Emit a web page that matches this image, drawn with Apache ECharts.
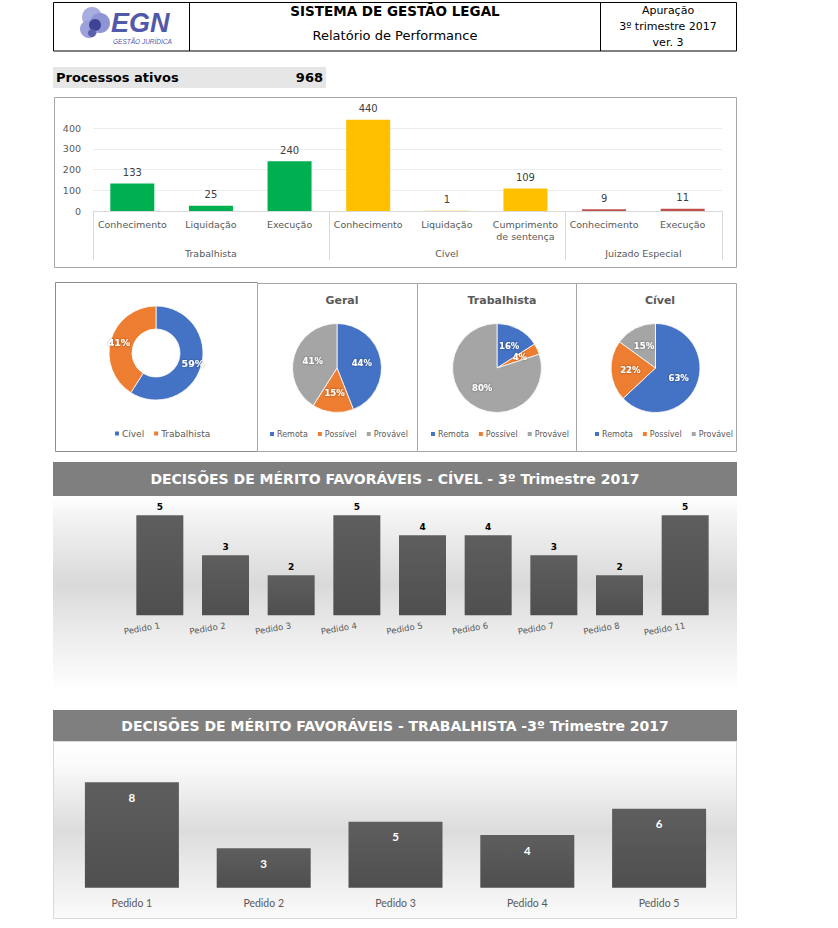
<!DOCTYPE html>
<html>
<head>
<meta charset="utf-8">
<script src="https://cdn.jsdelivr.net/npm/echarts@6/dist/echarts.min.js"></script>
<style>
html,body{margin:0;padding:0;background:#fff;}
#chart{width:838px;height:928px;}
</style>
</head>
<body>
<div id="chart"></div>
<script>
// ---------- DATA ----------
const headerTitle = 'SISTEMA DE GESTÃO LEGAL';
const headerSubtitle = 'Relatório de Performance';
const headerRight = ['Apuração', '3º trimestre 2017', 'ver. 3'];
const totalLabel = 'Processos ativos';
const totalAtivos = 968;

const processCategories = ['Conhecimento', 'Liquidação', 'Execução', 'Conhecimento', 'Liquidação', 'Cumprimento\nde sentença', 'Conhecimento', 'Execução'];
const processGroups = ['Trabalhista', 'Cível', 'Juizado Especial'];
const processGroupSizes = [3, 3, 2];
const processValues = [133, 25, 240, 440, 1, 109, 9, 11];
const processYTicks = [0, 100, 200, 300, 400];

const donutNames = ['Cível', 'Trabalhista'];
const donutValues = [59, 41];
const riskNames = ['Remota', 'Possível', 'Provável'];
const riskGeral = [44, 15, 41];
const riskTrabalhista = [16, 4, 80];
const riskCivel = [63, 22, 15];
const pieTitles = ['Geral', 'Trabalhista', 'Cível'];

const civelTitle = 'DECISÕES DE MÉRITO FAVORÁVEIS - CÍVEL - 3º Trimestre 2017';
const civelPedidos = ['Pedido 1', 'Pedido 2', 'Pedido 3', 'Pedido 4', 'Pedido 5', 'Pedido 6', 'Pedido 7', 'Pedido 8', 'Pedido 11'];
const civelValues = [5, 3, 2, 5, 4, 4, 3, 2, 5];

const trabTitle = 'DECISÕES DE MÉRITO FAVORÁVEIS - TRABALHISTA -3º Trimestre 2017';
const trabPedidos = ['Pedido 1', 'Pedido 2', 'Pedido 3', 'Pedido 4', 'Pedido 5'];
const trabValues = [8, 3, 5, 4, 6];

// ---------- STYLE ----------
const FONT = '"DejaVu Sans", Verdana, sans-serif';
const groupColors = ['#00b050', '#ffc000', '#c0504d'];
const sliceColors = { 'Cível': '#4472c4', 'Trabalhista': '#ed7d31', 'Remota': '#4472c4', 'Possível': '#ed7d31', 'Provável': '#a5a5a5' };
const barGray = new echarts.graphic.LinearGradient(0, 0, 0, 1, [{ offset: 0, color: '#5e5e5e' }, { offset: 1, color: '#4f4f4f' }]);

// group boundaries / centers for the two-level axis
const groupBounds = [0];
processGroupSizes.forEach(s => groupBounds.push(groupBounds[groupBounds.length - 1] + s));
const groupCenters = processGroupSizes.map((s, i) => groupBounds[i] + s / 2);
function groupOf(idx) { for (let g = 0; g < processGroupSizes.length; g++) { if (idx < groupBounds[g + 1]) return g; } return 0; }

const chart = echarts.init(document.getElementById('chart'), null, { renderer: 'svg', width: 838, height: 928 });

function txt(x, y, text, font, fill, align, valign, z) {
  return { type: 'text', x: x, y: y, z: z || 10, style: { text: text, font: font, fill: fill || '#000', textAlign: align || 'left', textVerticalAlign: valign || 'middle' } };
}
function box(x, y, w, h, stroke, fill, z) {
  return { type: 'rect', z: z == null ? -5 : z, shape: { x: x, y: y, width: w, height: h }, style: { fill: fill || 'none', stroke: stroke || 'none', lineWidth: 1 }, silent: true };
}

const graphics = [
  // header
  box(53.5, 2.5, 683, 48.5, '#000', '#fff'),
  { type: 'line', z: -4, shape: { x1: 189.5, y1: 2.5, x2: 189.5, y2: 51 }, style: { stroke: '#000', lineWidth: 1 } },
  { type: 'line', z: -4, shape: { x1: 600.5, y1: 2.5, x2: 600.5, y2: 51 }, style: { stroke: '#000', lineWidth: 1 } },
  // logo
  { type: 'circle', z: 1, shape: { cx: 92, cy: 17, r: 10 }, style: { fill: '#a9aee0' } },
  { type: 'circle', z: 1, shape: { cx: 100, cy: 23, r: 10 }, style: { fill: '#8e94d4' } },
  { type: 'circle', z: 1, shape: { cx: 89, cy: 29, r: 9 }, style: { fill: '#9ca1da' } },
  { type: 'circle', z: 1, shape: { cx: 95, cy: 25, r: 6 }, style: { fill: '#3f4395' } },
  { type: 'circle', z: 1, shape: { cx: 92, cy: 33, r: 4 }, style: { fill: '#5a5fab' } },
  txt(111, 23, 'EGN', 'italic bold 27px "Liberation Sans", Arial, sans-serif', '#5258aa', 'left', 'middle'),
  txt(113, 41, 'GESTÃO JURÍDICA', 'italic 6.5px "Liberation Sans", Arial, sans-serif', '#5258aa', 'left', 'middle'),
  txt(395, 11, headerTitle, 'bold 13.5px ' + FONT, '#000', 'center'),
  txt(395, 35, headerSubtitle, '13px ' + FONT, '#000', 'center'),
  txt(668, 10, headerRight[0], '11px ' + FONT, '#000', 'center'),
  txt(668, 26, headerRight[1], '11px ' + FONT, '#000', 'center'),
  txt(668, 42, headerRight[2], '11px ' + FONT, '#000', 'center'),
  // processos ativos
  box(53, 67, 273, 21, null, '#e7e6e6'),
  txt(56, 77.5, totalLabel, 'bold 13px ' + FONT, '#000', 'left'),
  txt(323, 77.5, String(totalAtivos), 'bold 13px ' + FONT, '#000', 'right'),
  // top chart frame
  box(54.5, 97.5, 682, 170, '#a6a6a6', '#fff'),
  // pie frames
  box(55.5, 282.5, 202, 169, '#8c8c8c', '#fff'),
  box(257.5, 283.5, 160, 168, '#a6a6a6', '#fff'),
  box(417.5, 283.5, 159, 168, '#a6a6a6', '#fff'),
  box(576.5, 283.5, 160, 168, '#a6a6a6', '#fff'),
  // civel section
  { type: 'rect', z: -5, silent: true, shape: { x: 53, y: 496, width: 684, height: 196 },
    style: { fill: new echarts.graphic.LinearGradient(0, 0, 0, 1, [
      { offset: 0, color: '#ffffff' }, { offset: 0.12, color: '#f2f2f2' }, { offset: 0.45, color: '#d9d9d9' },
      { offset: 0.7, color: '#ececec' }, { offset: 1, color: '#ffffff' }]) } },
  box(53, 462, 684, 34, null, '#7f7f7f', -4),
  txt(395, 479, civelTitle, 'bold 14px ' + FONT, '#ffffff', 'center'),
  // trabalhista section
  { type: 'rect', z: -5, silent: true, shape: { x: 53.5, y: 741.5, width: 683, height: 177 },
    style: { stroke: '#d9d9d9', lineWidth: 1, fill: new echarts.graphic.LinearGradient(0, 0, 0, 1, [
      { offset: 0, color: '#ffffff' }, { offset: 0.12, color: '#fbfbfb' }, { offset: 0.5, color: '#dcdcdc' },
      { offset: 0.8, color: '#efefef' }, { offset: 1, color: '#fafafa' }]) } },
  box(53, 710, 684, 31, null, '#7f7f7f', -4),
  txt(395, 725.5, trabTitle, 'bold 14px ' + FONT, '#ffffff', 'center')
];

const pieLabel = {
  show: true, position: 'inside', formatter: '{c}%', color: '#fff', fontWeight: 'bold',
  fontSize: 8.5, fontFamily: FONT, textShadowColor: 'rgba(0,0,0,0.45)', textShadowBlur: 2
};
function pieData(names, values) {
  return names.map((n, i) => ({ name: n, value: values[i], itemStyle: { color: sliceColors[n] } }));
}
function riskPie(center, values) {
  return {
    type: 'pie', center: center, radius: [0, 44.5], startAngle: 90, clockwise: true,
    label: pieLabel, labelLine: { show: false }, itemStyle: { borderColor: '#fff', borderWidth: 0.8 },
    emphasis: { disabled: true }, data: pieData(riskNames, values)
  };
}
const legendBase = { icon: 'rect', itemWidth: 6, itemHeight: 6, itemGap: 8, orient: 'horizontal',
  textStyle: { fontSize: 8, color: '#595959', fontFamily: FONT, padding: [0, 0, 0, -3] } };

const option = {
  animation: false,
  backgroundColor: '#fff',
  graphic: graphics,
  title: [
    { text: pieTitles[0], left: 337, top: 290, textAlign: 'center', textStyle: { fontSize: 11, fontWeight: 'bold', color: '#595959', fontFamily: FONT } },
    { text: pieTitles[1], left: 497, top: 290, textAlign: 'center', textStyle: { fontSize: 11, fontWeight: 'bold', color: '#595959', fontFamily: FONT } },
    { text: pieTitles[2], left: 655, top: 290, textAlign: 'center', textStyle: { fontSize: 11, fontWeight: 'bold', color: '#595959', fontFamily: FONT } }
  ],
  legend: [
    Object.assign({}, legendBase, { data: donutNames, left: 108, top: 424, textStyle: Object.assign({}, legendBase.textStyle, { fontSize: 9 }) }),
    Object.assign({}, legendBase, { data: riskNames, left: 263, top: 425 }),
    Object.assign({}, legendBase, { data: riskNames, left: 424, top: 425 }),
    Object.assign({}, legendBase, { data: riskNames, left: 588, top: 425 })
  ],
  grid: [
    { left: 93, right: 116, top: 107.25, bottom: 717, containLabel: false },
    { left: 127, right: 120, top: 515.3, bottom: 312.7, containLabel: false },
    { left: 66, right: 113, top: 782.3, bottom: 40.3, containLabel: false }
  ],
  xAxis: [
    { type: 'category', gridIndex: 0, data: processCategories,
      axisLine: { lineStyle: { color: '#d9d9d9' } }, axisTick: { show: false },
      axisLabel: { interval: 0, margin: 7, fontSize: 9.5, lineHeight: 12, color: '#595959', fontFamily: FONT, verticalAlign: 'top' } },
    { type: 'value', gridIndex: 0, min: 0, max: groupBounds[groupBounds.length - 1], position: 'bottom',
      axisLine: { show: false }, splitLine: { show: false },
      axisTick: { show: true, length: 49, customValues: groupBounds, lineStyle: { color: '#d9d9d9' } },
      axisLabel: { customValues: groupCenters, margin: 37, fontSize: 9.5, color: '#595959', fontFamily: FONT,
        formatter: v => processGroups[groupCenters.indexOf(v)] || '' } },
    { type: 'category', gridIndex: 1, data: civelPedidos,
      axisLine: { show: false }, axisTick: { show: false },
      axisLabel: { interval: 0, rotate: 10, margin: 10, fontSize: 8.5, color: '#595959', fontFamily: FONT } },
    { type: 'category', gridIndex: 2, data: trabPedidos,
      axisLine: { show: false }, axisTick: { show: false },
      axisLabel: { interval: 0, margin: 10, fontSize: 10.5, color: '#595959', fontFamily: 'Lato, "DejaVu Sans", sans-serif' } }
  ],
  yAxis: [
    { type: 'value', gridIndex: 0, min: 0, max: 500, interval: 100,
      axisLine: { show: false }, axisTick: { show: false },
      axisLabel: { showMaxLabel: false, margin: 12, fontSize: 9.5, color: '#595959', fontFamily: FONT,
        formatter: v => processYTicks.indexOf(v) >= 0 ? String(v) : '' },
      splitLine: { show: true, showMaxLine: false, lineStyle: { color: '#ececec' } } },
    { type: 'value', gridIndex: 1, min: 0, max: 5, show: false },
    { type: 'value', gridIndex: 2, min: 0, max: 8, show: false }
  ],
  series: [
    { type: 'bar', xAxisIndex: 0, yAxisIndex: 0, barWidth: 44,
      data: processValues.map((v, i) => ({ value: v, itemStyle: { color: groupColors[groupOf(i)] } })),
      label: { show: true, position: 'top', distance: 6, fontSize: 10, color: '#404040', fontFamily: FONT },
      emphasis: { disabled: true } },
    { type: 'bar', xAxisIndex: 2, yAxisIndex: 1, barWidth: 47, data: civelValues,
      itemStyle: { color: barGray },
      label: { show: true, position: 'top', distance: 4, fontSize: 9, fontWeight: 'bold', color: '#000', fontFamily: FONT },
      emphasis: { disabled: true } },
    { type: 'bar', xAxisIndex: 3, yAxisIndex: 2, barWidth: 94, data: trabValues,
      itemStyle: { color: barGray },
      label: { show: true, position: 'insideTop', distance: 9, fontSize: 11.5, fontWeight: 'bold', color: '#fff', fontFamily: 'Lato, "DejaVu Sans", sans-serif' },
      emphasis: { disabled: true } },
    { type: 'pie', center: [156, 353], radius: [24, 47], startAngle: 90, clockwise: true,
      label: Object.assign({}, pieLabel, { fontSize: 9.5 }), labelLine: { show: false },
      itemStyle: { borderColor: '#fff', borderWidth: 0.8 }, emphasis: { disabled: true },
      data: pieData(donutNames, donutValues) },
    riskPie([337, 368], riskGeral),
    riskPie([497, 368], riskTrabalhista),
    riskPie([655.5, 368], riskCivel)
  ]
};
chart.setOption(option);
</script>
</body>
</html>
